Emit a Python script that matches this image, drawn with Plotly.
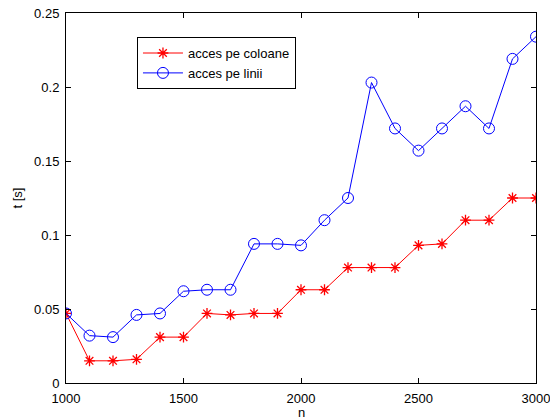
import plotly.graph_objects as go

# problem size n
n = [1000, 1100, 1200, 1300, 1400, 1500, 1600, 1700, 1800, 1900, 2000,
     2100, 2200, 2300, 2400, 2500, 2600, 2700, 2800, 2900, 3000]

# timing (seconds) for column-wise access
t_coloane = [0.047, 0.015, 0.015, 0.016, 0.031, 0.031, 0.047, 0.046, 0.047, 0.047, 0.063,
             0.063, 0.078, 0.078, 0.078, 0.093, 0.094, 0.110, 0.110, 0.125, 0.125]

# timing (seconds) for row-wise access
t_linii = [0.047, 0.032, 0.031, 0.046, 0.047, 0.062, 0.063, 0.063, 0.094, 0.094, 0.093,
           0.110, 0.125, 0.203, 0.172, 0.157, 0.172, 0.187, 0.172, 0.219, 0.234]

x_ticks = [1000, 1500, 2000, 2500, 3000]
y_ticks = [0, 0.05, 0.1, 0.15, 0.2, 0.25]
y_tick_text = ["0", "0.05", "0.1", "0.15", "0.2", "0.25"]

FONT = "Liberation Sans, Arial, sans-serif"

fig = go.Figure()
fig.add_trace(go.Scatter(
    x=n, y=t_coloane, name="acces pe coloane", mode="lines+markers",
    line=dict(color="#ff0000", width=1),
    marker=dict(symbol="asterisk-open", size=9, color="#ff0000",
                line=dict(color="#ff0000", width=1.3)),
))
fig.add_trace(go.Scatter(
    x=n, y=t_linii, name="acces pe linii", mode="lines+markers",
    line=dict(color="#0000ff", width=1),
    marker=dict(symbol="circle-open", size=11, color="#0000ff",
                line=dict(color="#0000ff", width=1)),
))

axis_common = dict(
    showline=True, linecolor="black", linewidth=1, mirror="ticks",
    ticks="inside", ticklen=5, tickcolor="black", showgrid=False, zeroline=False,
    automargin=False, ticklabeloverflow="allow",
    tickfont=dict(family=FONT, size=13, color="black"),
)

fig.update_layout(
    width=550, height=418,
    margin=dict(l=66, r=14, t=13, b=35),
    paper_bgcolor="white", plot_bgcolor="white",
    font=dict(family=FONT, size=13, color="black"),
    showlegend=True,
    legend=dict(
        x=0.151, y=0.935, xanchor="left", yanchor="top",
        bordercolor="black", borderwidth=1, bgcolor="white",
        font=dict(size=13), tracegroupgap=0, itemwidth=40,
    ),
    xaxis=dict(range=[1000, 3000], tickvals=x_ticks, ticklabelstandoff=3,
               **axis_common),
    yaxis=dict(range=[0, 0.25], tickvals=y_ticks, ticktext=y_tick_text,
               ticklabelstandoff=3,
               title=dict(text="t [s]", standoff=8, font=dict(size=13)), **axis_common),
)

# x-axis label placed just below the tick labels
fig.add_annotation(
    text="n", xref="paper", yref="paper", x=0.5, y=-0.054,
    xanchor="center", yanchor="top", showarrow=False,
    font=dict(family=FONT, size=13, color="black"),
)

fig.write_html("out.html")
